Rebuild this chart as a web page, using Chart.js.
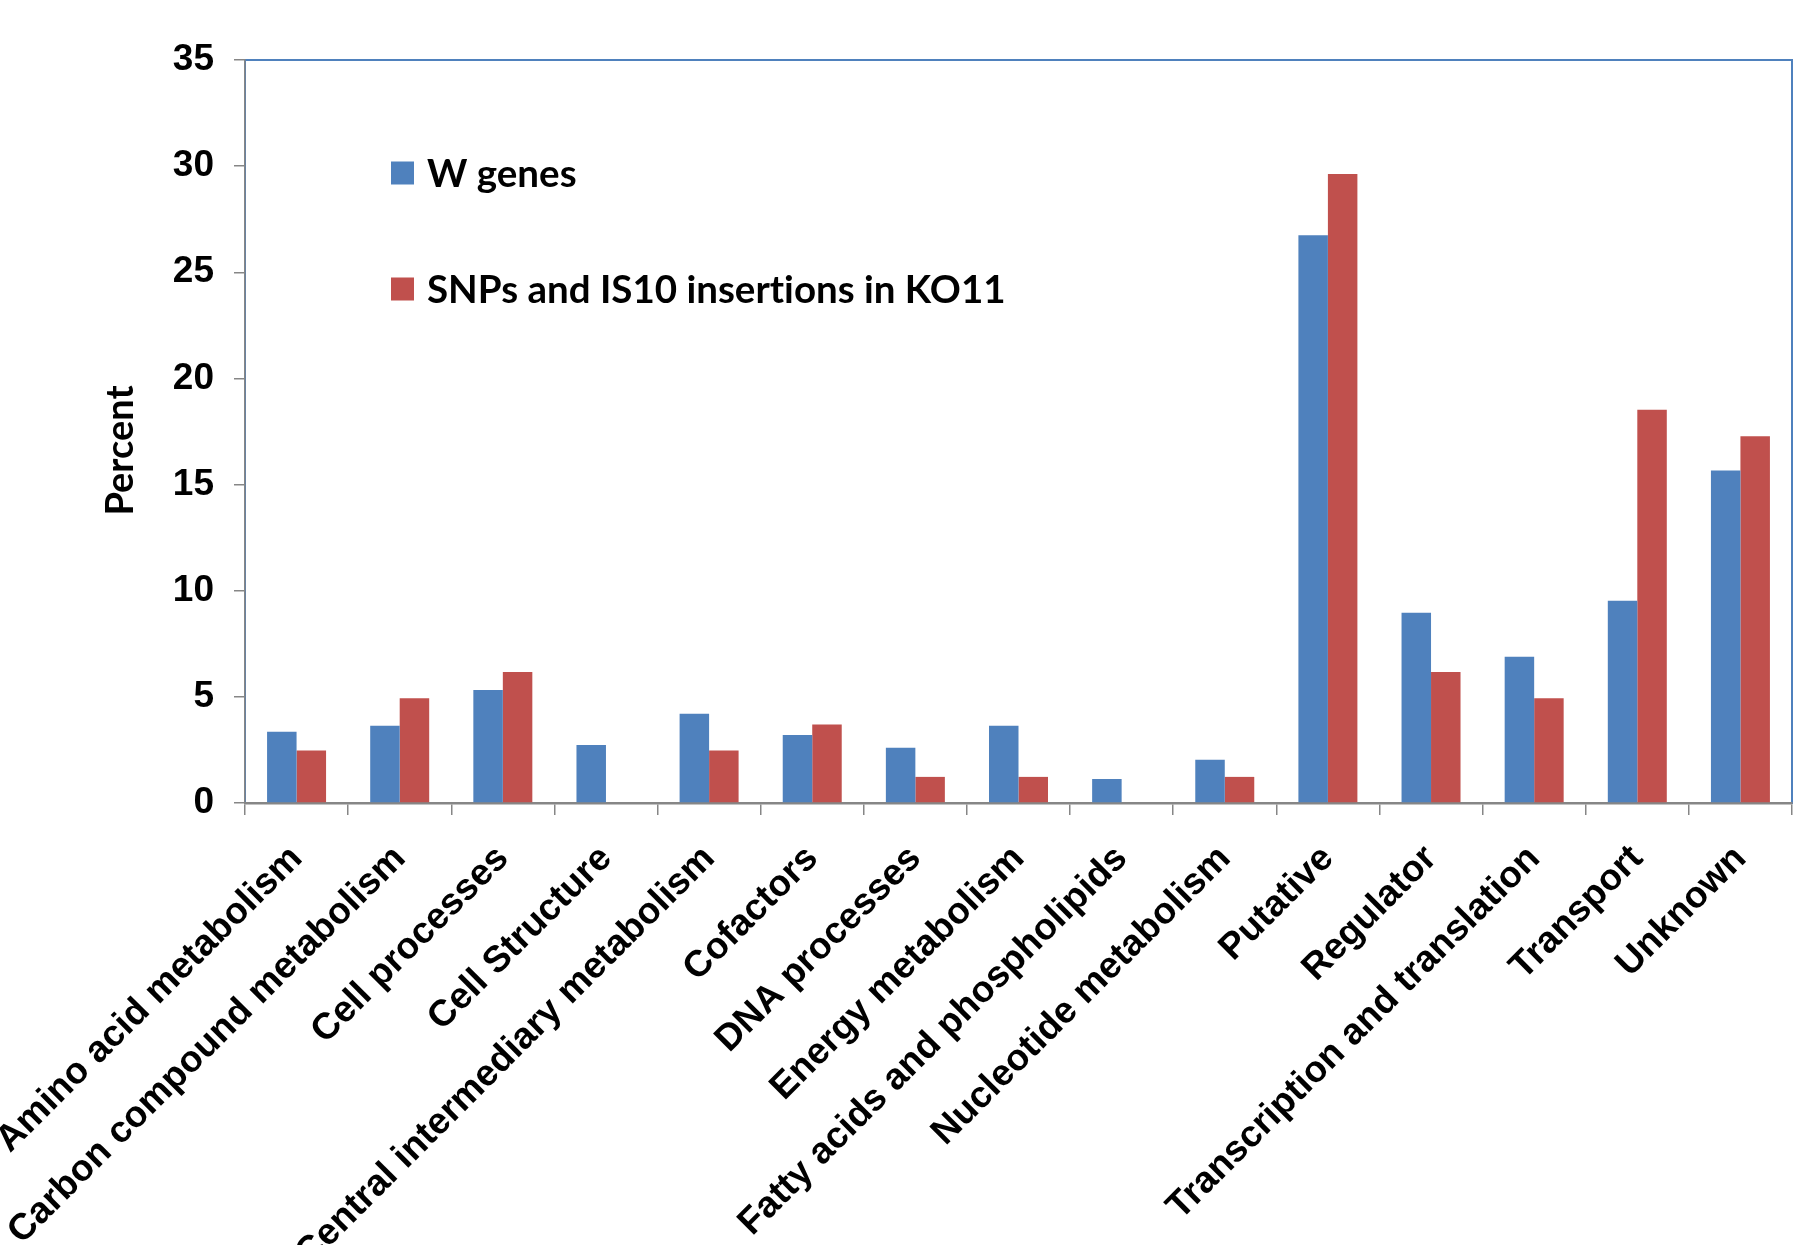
<!DOCTYPE html>
<html>
  <head>
    <title>Gene categories - W vs KO11</title>
    <style>
      body {
        margin: 0;
        background: white;
      }
      .wrap {
        width: 1816px;
        height: 1245px;
      }
    </style>
  </head>
  <body>
    <div class="wrap">
      <canvas id="geneChart" width="1816" height="1245"></canvas>
    </div>

    <script src="https://cdn.jsdelivr.net/npm/chart.js"></script>
    <script>
      const categories = [
        'Amino acid metabolism',
        'Carbon compound metabolism',
        'Cell processes',
        'Cell Structure',
        'Central intermediary metabolism',
        'Cofactors',
        'DNA processes',
        'Energy metabolism',
        'Fatty acids and phospholipids',
        'Nucleotide metabolism',
        'Putative',
        'Regulator',
        'Transcription and translation',
        'Transport',
        'Unknown'
      ];

      const wGenes = [3.36, 3.64, 5.32, 2.73, 4.2, 3.2, 2.6, 3.64, 1.13, 2.04, 26.75, 8.96, 6.89, 9.53, 15.66];
      const ko11Changes = [2.47, 4.94, 6.17, 0, 2.47, 3.7, 1.23, 1.23, 0, 1.23, 29.63, 6.17, 4.94, 18.52, 17.28];

      const yMin = 0;
      const yMax = 35;
      const yStep = 5;
      const yTitle = 'Percent';

      // blue frame round the plot area (left and bottom axes are drawn over it)
      const plotFrame = {
        id: 'plotFrame',
        beforeDraw(chart) {
          const {ctx, chartArea} = chart;
          ctx.save();
          ctx.strokeStyle = '#4F81BD';
          ctx.lineWidth = 2;
          ctx.strokeRect(chartArea.left, chartArea.top, chartArea.right - chartArea.left, chartArea.bottom - chartArea.top);
          ctx.restore();
        }
      };

      // legend sits inside the plot, one item under the other
      const insideLegend = {
        id: 'insideLegend',
        afterDraw(chart) {
          const {ctx, chartArea} = chart;
          ctx.save();
          ctx.font = 'bold 38.5px Lato';
          ctx.textRendering = 'optimizeSpeed';
          ctx.textBaseline = 'middle';
          chart.data.datasets.forEach((ds, i) => {
            const x = chartArea.left + 146;
            const y = chartArea.top + 113 + i * 116;
            ctx.fillStyle = ds.backgroundColor;
            ctx.fillRect(x, y - 11.5, 23, 23);
            ctx.fillStyle = '#000';
            ctx.fillText(ds.label, x + 36, y + 2);
          });
          ctx.restore();
        }
      };

      // y axis title, in the same face as the legend, a bit below the middle
      const axisTitle = {
        id: 'axisTitle',
        afterDraw(chart) {
          const {ctx, chartArea} = chart;
          ctx.save();
          ctx.font = 'bold 38px Lato';
          ctx.textRendering = 'optimizeSpeed';
          ctx.fillStyle = '#000';
          ctx.textAlign = 'center';
          ctx.textBaseline = 'alphabetic';
          ctx.translate(133, (chartArea.top + chartArea.bottom) / 2 + 19);
          ctx.rotate(-Math.PI / 2);
          ctx.fillText(yTitle, 0, 0);
          ctx.restore();
        }
      };

      const geneChart = new Chart(document.getElementById('geneChart'), {
        type: 'bar',
        data: {
          labels: categories,
          datasets: [{
            label: 'W genes',
            data: wGenes,
            backgroundColor: '#4F81BD',
            barPercentage: 1,
            categoryPercentage: 0.572
          }, {
            label: 'SNPs and IS10 insertions in KO11',
            data: ko11Changes,
            backgroundColor: '#C0504D',
            barPercentage: 1,
            categoryPercentage: 0.572
          }]
        },
        options: {
          responsive: false,
          animation: false,
          layout: {
            padding: { top: 60, right: 24, left: 0, bottom: 0 }
          },
          plugins: {
            legend: { display: false },
            tooltip: { enabled: false }
          },
          scales: {
            x: {
              grid: {
                offset: true,
                drawOnChartArea: false,
                tickLength: 12,
                color: '#868686',
                lineWidth: 1.5
              },
              border: { color: '#868686', width: 2.5 },
              ticks: {
                autoSkip: false,
                minRotation: 45,
                maxRotation: 45,
                padding: 22,
                color: '#000',
                font: { family: 'Liberation Sans', size: 37, weight: 'bold' }
              },
              afterFit(scale) {
                scale.height = 1245 - 803;
                scale.paddingLeft = 0;
                scale.paddingRight = 0;
              }
            },
            y: {
              min: yMin,
              max: yMax,
              grid: {
                drawOnChartArea: false,
                tickLength: 11,
                color: '#868686',
                lineWidth: 1.5
              },
              border: { color: '#868686', width: 1.5 },
              ticks: {
                stepSize: yStep,
                padding: 20,
                color: '#000',
                font: { family: 'Liberation Sans', size: 37, weight: 'bold' }
              },
              afterFit(scale) {
                scale.width = 245;
                scale.paddingTop = 0;
                scale.paddingBottom = 0;
              }
            }
          }
        },
        plugins: [plotFrame, insideLegend, axisTitle]
      });
    </script>
  </body>
</html>
